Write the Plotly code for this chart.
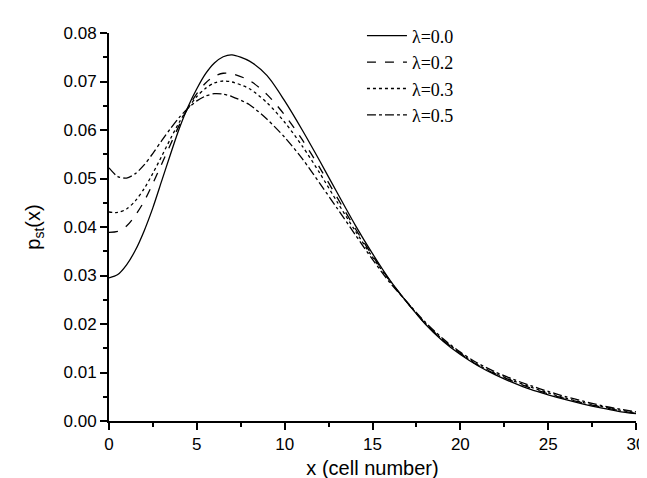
import plotly.graph_objects as go

# cell positions
x = [0, 0.5, 1, 1.5, 2, 2.5, 3, 3.5, 4, 4.5, 5, 5.5, 6, 6.5, 7, 8, 9, 10, 11, 12, 13, 14, 15,
     16, 17, 18, 19, 20, 21, 22, 23, 24, 25, 26, 27, 28, 29, 30]

# stationary distribution for each lambda
p_l00 = [0.0295, 0.0302, 0.0322, 0.0352, 0.0392, 0.0440, 0.0495, 0.0550, 0.0603, 0.0648, 0.0685,
         0.0716, 0.0738, 0.0751, 0.0755, 0.0742, 0.0712, 0.0660, 0.0600, 0.0536, 0.0470, 0.0405,
         0.0345, 0.0290, 0.0243, 0.0200, 0.0165, 0.0137, 0.0114, 0.0095, 0.0079, 0.0065, 0.0054,
         0.0044, 0.0035, 0.0027, 0.0020, 0.0015]
p_l02 = [0.0389, 0.0391, 0.0402, 0.0424, 0.0453, 0.0490, 0.0530, 0.0570, 0.0610, 0.0646, 0.0675,
         0.0697, 0.0711, 0.0717, 0.0716, 0.0702, 0.0673, 0.0631, 0.0580, 0.0522, 0.0460, 0.0398,
         0.0341, 0.0289, 0.0243, 0.0201, 0.0167, 0.0139, 0.0115, 0.0097, 0.0082, 0.0068, 0.0056,
         0.0046, 0.0037, 0.0029, 0.0022, 0.0016]
p_l03 = [0.0431, 0.0430, 0.0437, 0.0454, 0.0479, 0.0511, 0.0546, 0.0582, 0.0616, 0.0645, 0.0669,
         0.0686, 0.0697, 0.0701, 0.0699, 0.0685, 0.0656, 0.0616, 0.0567, 0.0511, 0.0451, 0.0393,
         0.0338, 0.0288, 0.0243, 0.0202, 0.0168, 0.0140, 0.0116, 0.0098, 0.0083, 0.0070, 0.0058,
         0.0047, 0.0038, 0.0030, 0.0023, 0.0017]
p_l05 = [0.0522, 0.0504, 0.0501, 0.0510, 0.0528, 0.0552, 0.0578, 0.0603, 0.0626, 0.0645, 0.0660,
         0.0670, 0.0675, 0.0674, 0.0669, 0.0652, 0.0622, 0.0585, 0.0541, 0.0490, 0.0438, 0.0385,
         0.0333, 0.0285, 0.0244, 0.0204, 0.0170, 0.0142, 0.0119, 0.0101, 0.0086, 0.0073, 0.0061,
         0.0050, 0.0041, 0.0032, 0.0025, 0.0019]

names = ["λ=0.0", "λ=0.2", "λ=0.3", "λ=0.5"]
series = [p_l00, p_l02, p_l03, p_l05]
dashes = ["solid", "dash", "dot", "dashdot"]

fig = go.Figure()
for name, y, dash in zip(names, series, dashes):
    fig.add_trace(go.Scatter(x=x, y=y, name=name, mode="lines",
                             line=dict(color="black", width=1.3, dash=dash, shape="spline", smoothing=0.8)))

sans = "Liberation Sans, Arial"
axis_common = dict(showline=True, linecolor="black", linewidth=2, ticks="outside", ticklen=7,
                   tickwidth=2, tickcolor="black", showgrid=False, zeroline=False, mirror=False,
                   tickfont=dict(family=sans, size=17, color="black"))

fig.update_xaxes(range=[0, 30], dtick=5, tick0=0, ticklabeloverflow="allow",
                 minor=dict(dtick=2.5, ticks="outside", ticklen=4, tickwidth=2, tickcolor="black"),
                 title=dict(text="x (cell number)", font=dict(family=sans, size=20, color="black"),
                            standoff=8),
                 **axis_common)
fig.update_yaxes(range=[0, 0.08], dtick=0.01, tick0=0, tickformat=".2f",
                 minor=dict(dtick=0.005, ticks="outside", ticklen=4, tickwidth=2, tickcolor="black"),
                 title=dict(text="p<sub>st</sub>(x)", font=dict(family=sans, size=20, color="black"),
                            standoff=18),
                 **axis_common)

fig.update_layout(
    width=647, height=478,
    margin=dict(l=101, r=10, t=14, b=65),
    plot_bgcolor="white", paper_bgcolor="white",
    legend=dict(x=0.48, y=1.04, xanchor="left", yanchor="top", bgcolor="rgba(0,0,0,0)",
                font=dict(family="Liberation Serif, Times New Roman", size=18, color="black"),
                tracegroupgap=0, itemwidth=40),
)

fig.write_html("out.html")
